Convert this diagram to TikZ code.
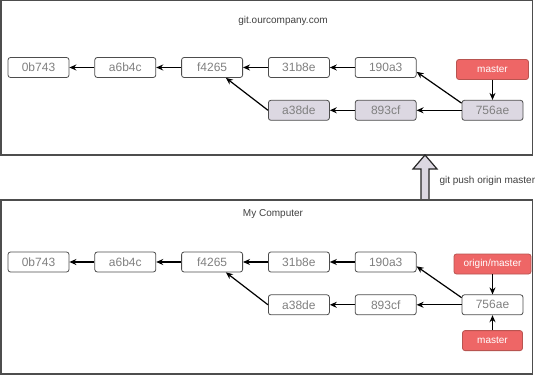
\documentclass[tikz,border=0pt]{standalone}
\usepackage{fontspec}
\setmainfont{Liberation Sans}
\usetikzlibrary{arrows.meta,positioning,calc}
\definecolor{gitgrey}{HTML}{808080}
\definecolor{gitframe}{HTML}{4D4D4D}
\definecolor{gitlilac}{HTML}{DCD8E2}
\definecolor{gitred}{HTML}{EE6666}
\definecolor{gitredline}{HTML}{B85450}
\tikzset{
  commit/.style     = {draw=gitframe, line width=0.8pt, fill=white, rounded corners=2.5pt,
                       minimum width=61pt, minimum height=20pt, inner sep=1pt, text=gitgrey,
                       font=\fontsize{12}{14}\selectfont},
  pushed/.style     = {commit, fill=gitlilac},
  branch/.style     = {draw=gitredline, line width=0.8pt, fill=gitred, rounded corners=2.5pt,
                       minimum height=20pt, inner sep=2pt, text=white,
                       font=\fontsize{10}{12}\selectfont},
  sig/.style        = {-{Stealth[length=7pt, width=6pt]}, line width=1.2pt},
  frame/.style      = {draw=gitframe, line width=1.2pt},
  title/.style      = {font=\fontsize{10}{12}\selectfont, text=black!75},
  node distance     = 22pt and 25pt,
}

\begin{document}
\begin{tikzpicture}[x=1pt, y=1pt]
  \useasboundingbox (0,0) rectangle (540,375);
  % remote repository
  \draw[frame] (1,374.5) rectangle (532.5,220);
  \node[title] (rtitle) at (283,354) {git.ourcompany.com};
  \node[commit] (r-0b743) at (38.5,307.5) {0b743};
  \node[commit, right=of r-0b743] (r-a6b4c) {a6b4c};
  \node[commit, right=of r-a6b4c] (r-f4265) {f4265};
  \node[commit, right=of r-f4265] (r-31b8e) {31b8e};
  \node[commit, right=of r-31b8e] (r-190a3) {190a3};
  \node[pushed, below=of r-31b8e] (r-a38de) {a38de};
  \node[pushed, below=of r-190a3] (r-893cf) {893cf};
  \node[pushed, right=45pt of r-893cf] (r-756ae) {756ae};
  \node[branch, minimum width=72pt, above=20pt of r-756ae] (r-master) {master};
  \draw[sig] (r-a6b4c) -- (r-0b743);
  \draw[sig] (r-f4265) -- (r-a6b4c);
  \draw[sig] (r-31b8e) -- (r-f4265);
  \draw[sig] (r-190a3) -- (r-31b8e);
  \draw[sig] (r-a38de.west) -- (r-f4265.-37);
  \draw[sig] (r-893cf) -- (r-a38de);
  \draw[sig] (r-756ae) -- (r-893cf);
  \draw[sig] (r-756ae.167) -- (r-190a3.-8);
  \draw[sig] (r-master) -- (r-756ae);

  % push arrow
  \filldraw[draw=black!85, fill=gitlilac, line width=1.2pt, line join=miter]
    (421,175) -- (421,206) -- (413,206) -- (425,220) -- (437,206) -- (429,206) -- (429,175) -- cycle;
  \node[title, anchor=west] (push) at (436,194) {git push origin master};

  % local repository
  \draw[frame] (1,175) rectangle (532.5,1);
  \node[title] (ltitle) at (273,161) {My Computer};
  \node[commit] (l-0b743) at (38.5,113) {0b743};
  \node[commit, right=of l-0b743] (l-a6b4c) {a6b4c};
  \node[commit, right=of l-a6b4c] (l-f4265) {f4265};
  \node[commit, right=of l-f4265] (l-31b8e) {31b8e};
  \node[commit, right=of l-31b8e] (l-190a3) {190a3};
  \node[commit, below=of l-31b8e] (l-a38de) {a38de};
  \node[commit, below=of l-190a3] (l-893cf) {893cf};
  \node[commit, right=45pt of l-893cf] (l-756ae) {756ae};
  \node[branch, minimum width=77pt, above=20pt of l-756ae] (l-origin) {origin/master};
  \node[branch, minimum width=60pt, below=15pt of l-756ae] (l-master) {master};
  \draw[sig] (l-a6b4c) -- (l-0b743);
  \draw[sig] (l-f4265) -- (l-a6b4c);
  \draw[sig] (l-31b8e) -- (l-f4265);
  \draw[sig] (l-190a3) -- (l-31b8e);
  \draw[sig] (l-a38de.west) -- (l-f4265.-37);
  \draw[sig] (l-893cf) -- (l-a38de);
  \draw[sig] (l-756ae) -- (l-893cf);
  \draw[sig] (l-756ae.167) -- (l-190a3.-8);
  \draw[sig] (l-origin) -- (l-756ae);
  \draw[sig] (l-master) -- (l-756ae);
\end{tikzpicture}
\end{document}
